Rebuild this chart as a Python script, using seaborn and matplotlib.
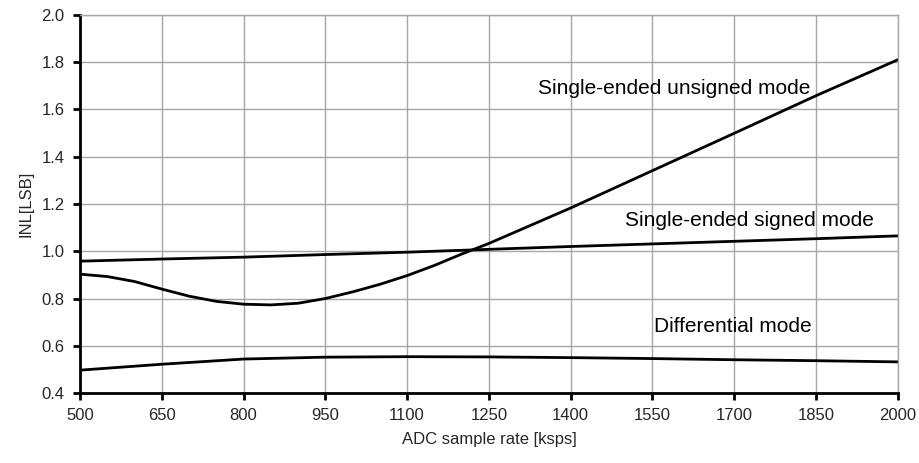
import matplotlib
matplotlib.use('Agg')
import matplotlib.pyplot as plt
import pandas as pd
import seaborn as sns

# values
unsigned_rate = [500, 550, 600, 650, 700, 750, 800, 850, 900, 950, 1000, 1050, 1100, 1150, 1200, 1250, 1400, 1550, 1700, 1850, 2000]
unsigned_inl = [0.903, 0.893, 0.872, 0.840, 0.810, 0.788, 0.776, 0.773, 0.780, 0.800, 0.828, 0.860, 0.897, 0.940, 0.988, 1.033, 1.183, 1.341, 1.499, 1.658, 1.810]

signed_rate = [500, 650, 800, 950, 1100, 1250, 1400, 1550, 1700, 1850, 2000]
signed_inl = [0.958, 0.967, 0.975, 0.986, 0.996, 1.008, 1.020, 1.031, 1.042, 1.053, 1.065]

diff_rate = [500, 650, 800, 950, 1100, 1250, 1400, 1550, 1700, 1850, 2000]
diff_inl = [0.497, 0.522, 0.544, 0.552, 0.554, 0.553, 0.550, 0.546, 0.541, 0.537, 0.532]

labels = ['Single-ended unsigned mode', 'Single-ended signed mode', 'Differential mode']
label_pos = [(1340, 1.69), (1500, 1.13), (1553, 0.68)]

df = pd.concat([
    pd.DataFrame({'rate': unsigned_rate, 'inl': unsigned_inl, 'mode': labels[0]}),
    pd.DataFrame({'rate': signed_rate, 'inl': signed_inl, 'mode': labels[1]}),
    pd.DataFrame({'rate': diff_rate, 'inl': diff_inl, 'mode': labels[2]}),
])

sns.set_style('white')
plt.rcParams['font.family'] = ['Liberation Sans', 'DejaVu Sans']

fig = plt.figure(figsize=(9.19, 4.63), dpi=100)
ax = fig.add_axes([0.087, 0.151, 0.890, 0.817])
sns.lineplot(data=df, x='rate', y='inl', hue='mode', palette=['black'] * 3,
             linewidth=2.0, legend=False, ax=ax, sort=True)

for txt, (x, y) in zip(labels, label_pos):
    ax.text(x, y, txt, fontsize=15, ha='left', va='center', color='black')

ax.set_xlim(500, 2000)
ax.set_ylim(0.4, 2.0)
ax.set_xticks(range(500, 2001, 150))
ax.set_yticks([0.4, 0.6, 0.8, 1.0, 1.2, 1.4, 1.6, 1.8, 2.0])
ax.set_yticklabels([f'{v:.1f}' for v in ax.get_yticks()])
ax.grid(True, color='#a6a6a6', linewidth=1.0)
ax.set_axisbelow(True)

for s in ['top', 'right']:
    ax.spines[s].set_color('#a6a6a6')
    ax.spines[s].set_linewidth(1.0)
for s in ['left', 'bottom']:
    ax.spines[s].set_color('black')
    ax.spines[s].set_linewidth(2.0)

ax.tick_params(axis='both', direction='out', length=5, width=2, color='black',
               labelsize=12, bottom=True, left=True, pad=6)
ax.set_xlabel('ADC sample rate [ksps]', fontsize=12, labelpad=6)
ax.set_ylabel('INL[LSB]', fontsize=12, labelpad=6)

fig.savefig('out.png', dpi=100)
